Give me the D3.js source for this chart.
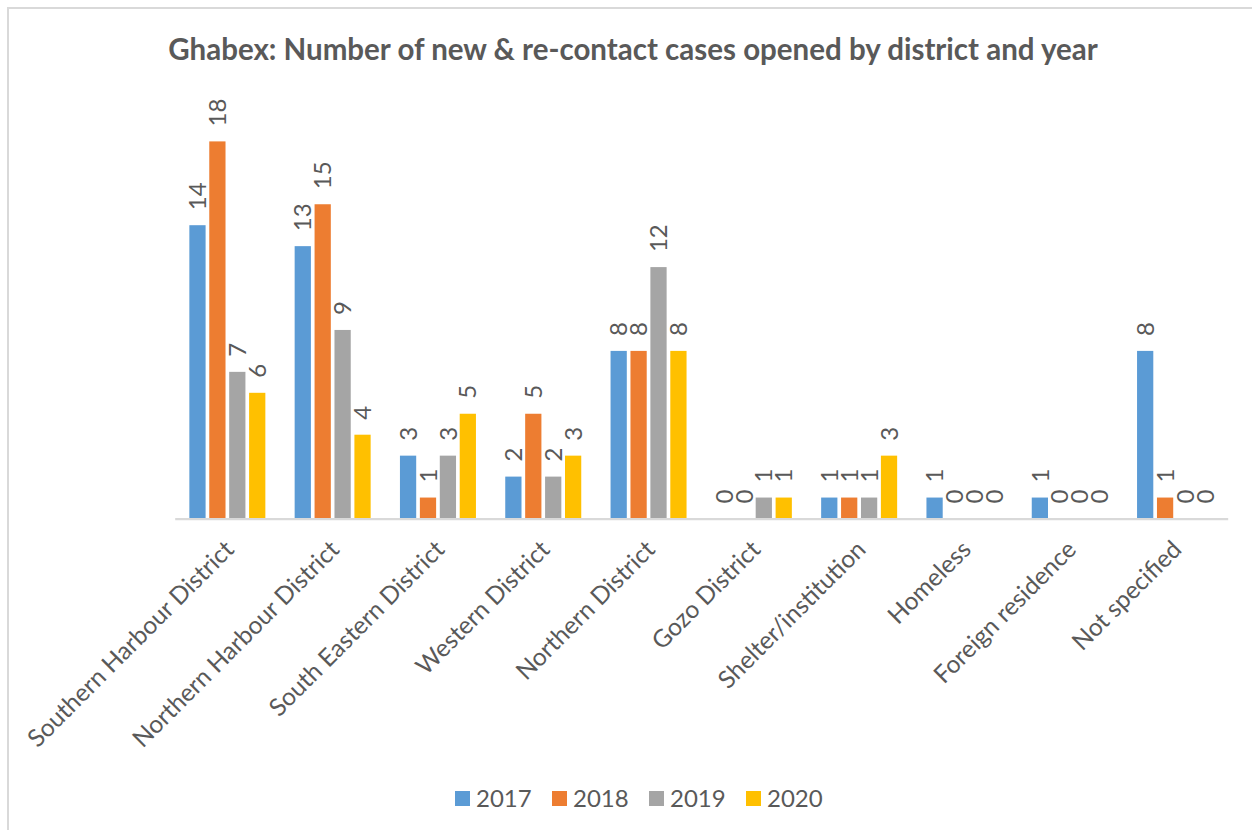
<!DOCTYPE html>
<html>
<head>
<meta charset="utf-8">
<script src="https://cdn.jsdelivr.net/npm/d3@7"></script>
<style>
  body { margin: 0; background: #fff; }
  svg text { font-family: Lato, "Open Sans", sans-serif; fill: #595959; }
</style>
</head>
<body>
<svg id="chart"></svg>
<script>
// Chart data
const categories = ["Southern Harbour District", "Northern Harbour District", "South Eastern District",
  "Western District", "Northern District", "Gozo District", "Shelter/institution",
  "Homeless", "Foreign residence", "Not specified"];
const years = ["2017", "2018", "2019", "2020"];
const values2017 = [14, 13, 3, 2, 8, 0, 1, 1, 1, 8];
const values2018 = [18, 15, 1, 5, 8, 0, 1, 0, 0, 1];
const values2019 = [7, 9, 3, 2, 12, 1, 1, 0, 0, 0];
const values2020 = [6, 4, 5, 3, 8, 1, 3, 0, 0, 0];
const colors = ["#5B9BD5", "#ED7D31", "#A5A5A5", "#FFC000"];

const series = [values2017, values2018, values2019, values2020];

// Dimensions
const width = 1252;
const height = 830;
const baseY = 518.5;

const svg = d3.select("#chart")
  .attr("width", width)
  .attr("height", height);

// Outer chart border
svg.append("rect")
  .attr("x", 8).attr("y", 8)
  .attr("width", width + 10).attr("height", height + 10)
  .attr("fill", "#fff")
  .attr("stroke", "#D9D9D9")
  .attr("stroke-width", 2);

// Title
svg.append("text")
  .attr("x", 633)
  .attr("y", 59.5)
  .attr("text-anchor", "middle")
  .style("font-size", "29.5px")
  .style("font-weight", "bold")
  .text("Ghabex: Number of new & re-contact cases opened by district and year");

// Scales
const xScale = d3.scaleBand()
  .domain(categories)
  .range([174.7, 1227.7])
  .padding(0);

const xInner = d3.scaleBand()
  .domain(years)
  .range([-38, 38])
  .paddingInner(3.5 / 19)
  .paddingOuter(0);

const yScale = d3.scaleLinear()
  .domain([0, 20])
  .range([baseY, baseY - 20 * 20.95]);

// Bars + labels per series
years.forEach((yr, i) => {
  const g = svg.append("g").attr("class", "series-" + yr);
  const rows = categories.map((c, j) => ({ cat: c, v: series[i][j] }));

  g.selectAll("rect")
    .data(rows)
    .enter()
    .append("rect")
    .attr("x", d => xScale(d.cat) + xScale.bandwidth() / 2 + xInner(yr))
    .attr("y", d => yScale(d.v))
    .attr("width", xInner.bandwidth())
    .attr("height", d => baseY - yScale(d.v))
    .attr("fill", colors[i]);

  g.selectAll("text")
    .data(rows)
    .enter()
    .append("text")
    .attr("transform", d => {
      const cx = xScale(d.cat) + xScale.bandwidth() / 2 + xInner(yr) + xInner.bandwidth() / 2;
      return `translate(${cx},${yScale(d.v) - 15}) rotate(-90)`;
    })
    .attr("dy", "0.36em")
    .style("font-size", "24px")
    .text(d => d.v);
});

// x axis line
const xAxis = d3.axisBottom(xScale).tickSize(0).tickFormat("");
const axisG = svg.append("g")
  .attr("transform", `translate(0,${baseY})`)
  .call(xAxis);
axisG.select(".domain").attr("stroke", "#D9D9D9").attr("stroke-width", 2.25);

// Category labels, rotated 45 degrees
svg.append("g")
  .selectAll("text")
  .data(categories)
  .enter()
  .append("text")
  .attr("transform", d => `translate(${xScale(d) + xScale.bandwidth() / 2 + 8},${551}) rotate(-45)`)
  .attr("text-anchor", "end")
  .style("font-size", "24.5px")
  .text(d => d);

// Legend
const legend = svg.append("g").attr("transform", "translate(455,791)");
years.forEach((yr, i) => {
  const item = legend.append("g").attr("transform", `translate(${i * 97},0)`);
  item.append("rect")
    .attr("width", 15).attr("height", 15)
    .attr("fill", colors[i]);
  item.append("text")
    .attr("x", 21)
    .attr("y", 15.5)
    .style("font-size", "24px")
    .text(yr);
});
</script>
</body>
</html>
